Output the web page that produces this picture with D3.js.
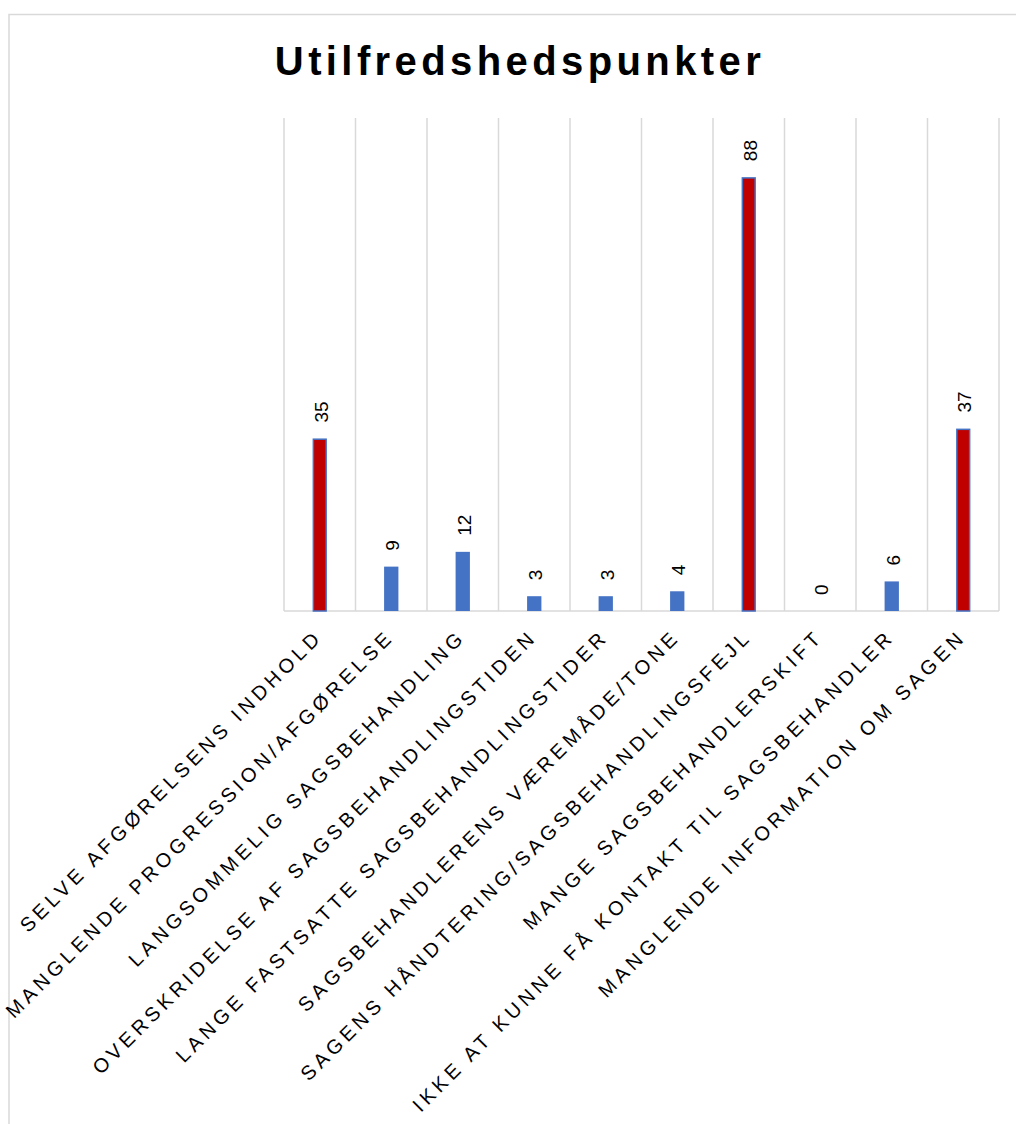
<!DOCTYPE html>
<html>
<head>
<meta charset="utf-8">
<script src="https://cdn.jsdelivr.net/npm/d3@7"></script>
<style>
  html, body { margin: 0; padding: 0; background: #fff; }
  svg { display: block; }
  text { font-family: "Liberation Sans", Arial, sans-serif; }
</style>
</head>
<body>
<div id="chart"></div>
<script>
// Complaint categories and their counts
const categories = [
  "SELVE AFGØRELSENS INDHOLD",
  "MANGLENDE PROGRESSION/AFGØRELSE",
  "LANGSOMMELIG SAGSBEHANDLING",
  "OVERSKRIDELSE AF SAGSBEHANDLINGSTIDEN",
  "LANGE FASTSATTE SAGSBEHANDLINGSTIDER",
  "SAGSBEHANDLERENS VÆREMÅDE/TONE",
  "SAGENS HÅNDTERING/SAGSBEHANDLINGSFEJL",
  "MANGE SAGSBEHANDLERSKIFT",
  "IKKE AT KUNNE FÅ KONTAKT TIL SAGSBEHANDLER",
  "MANGLENDE INFORMATION OM SAGEN"
];
const counts = [35, 9, 12, 3, 3, 4, 88, 0, 6, 37];
const title = "Utilfredshedspunkter";
const valueDomain = [0, 100];

const W = 1016, H = 1124;
const plot = { left: 284, right: 999, top: 118, bottom: 611 };

// The three largest counts are drawn in red
const topThree = counts.slice().sort((a, b) => b - a).slice(0, 3);
const isTop = v => v > 0 && v >= topThree[2];

const svg = d3.select("#chart").append("svg")
  .attr("width", W).attr("height", H);

// Outer chart frame
svg.append("rect")
  .attr("x", 9).attr("y", 14.5)
  .attr("width", W + 20).attr("height", H + 20)
  .attr("fill", "none").attr("stroke", "#d9d9d9").attr("stroke-width", 1.5);

// Title
svg.append("text")
  .attr("x", 520).attr("y", 75)
  .attr("text-anchor", "middle")
  .attr("font-size", 40).attr("font-weight", "bold")
  .attr("letter-spacing", "4.4px")
  .attr("fill", "#000")
  .text(title);

const x = d3.scaleBand()
  .domain(categories)
  .range([plot.left, plot.right])
  .paddingInner(0.8).paddingOuter(0.4);

const y = d3.scaleLinear().domain(valueDomain).range([plot.bottom, plot.top]);

// Vertical gridlines at the category boundaries
const bounds = d3.range(categories.length + 1).map(i => plot.left + i * (plot.right - plot.left) / categories.length);
svg.append("g").selectAll("line").data(bounds).join("line")
  .attr("x1", d => d).attr("x2", d => d)
  .attr("y1", plot.top).attr("y2", plot.bottom)
  .attr("stroke", "#d9d9d9").attr("stroke-width", 1.5);

// Category axis
const xAxis = svg.append("g")
  .attr("transform", `translate(0,${plot.bottom})`)
  .call(d3.axisBottom(x).tickSize(0).tickPadding(0));
xAxis.select(".domain")
  .attr("d", `M${plot.left},0H${plot.right}`)
  .attr("stroke", "#d9d9d9").attr("stroke-width", 1.5);
xAxis.selectAll(".tick text")
  .attr("font-family", "'Liberation Sans', Arial, sans-serif")
  .attr("font-size", 20)
  .attr("letter-spacing", "4.2px")
  .attr("fill", "#000")
  .attr("text-anchor", "end")
  .attr("y", 0).attr("dy", 0)
  .attr("transform", "translate(4,27) rotate(-45)");

// Bars
const bars = svg.append("g");
categories.forEach((c, i) => {
  const v = counts[i];
  if (v <= 0) return;
  const top = isTop(v);
  bars.append("rect")
    .attr("x", x(c) + (top ? 0.75 : 0))
    .attr("y", y(v) + (top ? 0.75 : 0))
    .attr("width", x.bandwidth() - (top ? 1.5 : 0))
    .attr("height", y(0) - y(v) - (top ? 0.75 : 0))
    .attr("fill", top ? "#c00000" : "#4472c4")
    .attr("stroke", top ? "#4472c4" : "none")
    .attr("stroke-width", top ? 1.5 : 0);
});

// Value labels, rotated to read upwards
svg.append("g").selectAll("text").data(categories).join("text")
  .attr("transform", (c, i) => `translate(${x(c) + x.bandwidth() / 2 + 8},${y(counts[i]) - 16}) rotate(-90)`)
  .attr("font-size", 19)
  .attr("fill", "#000")
  .attr("text-anchor", "start")
  .text((c, i) => counts[i]);
</script>
</body>
</html>
